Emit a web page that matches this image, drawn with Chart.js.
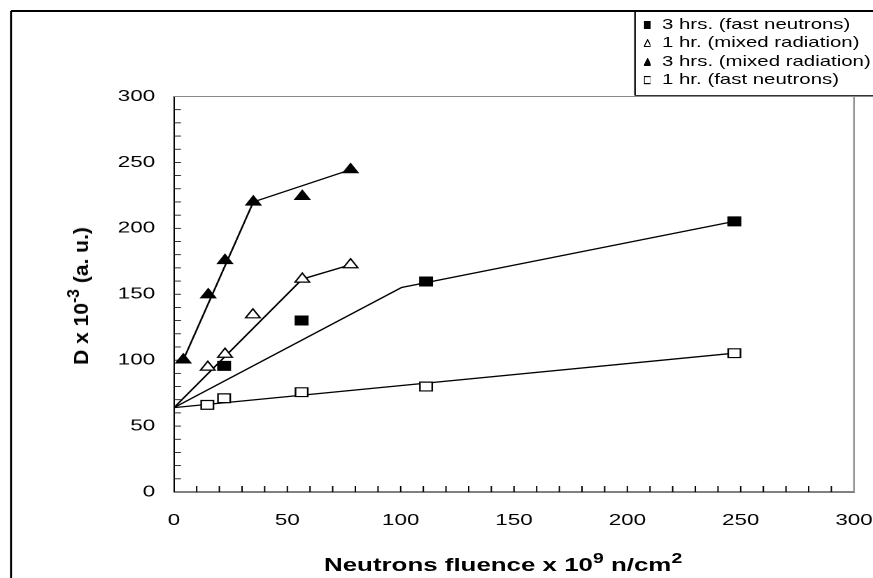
<!DOCTYPE html>
<html><head><meta charset="utf-8">
<script src="https://cdn.jsdelivr.net/npm/chart.js@4.4.0/dist/chart.umd.min.js"></script>
<style>
html,body{margin:0;padding:0;background:#fff;overflow:hidden;width:873px;height:578px;}
#wrap{position:absolute;left:0;top:0;width:624px;height:578px;transform:scaleX(1.399);transform-origin:0 0;}
#c{position:absolute;left:0;top:0;}
.lgt{position:absolute;height:18.5px;line-height:18.5px;font:14.6px "Liberation Sans",Arial,sans-serif;white-space:nowrap;color:#000;}
.lgm{position:absolute;}
#xt{position:absolute;left:231.6px;top:553.5px;line-height:22px;font:bold 18.5px "Liberation Sans",Arial,sans-serif;white-space:nowrap;color:#000;}
#yt{position:absolute;left:81px;top:296px;transform:translate(-50%,-50%) rotate(-90deg);line-height:21px;font:bold 21px "Liberation Sans",Arial,sans-serif;white-space:nowrap;color:#000;}
sup{font-size:0.75em;line-height:0;vertical-align:0.55em;}
</style></head>
<body>
<div id="wrap">
<canvas id="c" width="624" height="578"></canvas>
<div id="legend"></div>
<div id="xt">Neutrons fluence x 10<sup>9</sup> n/cm<sup>2</sup></div>
</div>
<div id="yt">D x 10<sup>-3</sup> (a. u.)</div>
<script>
// ---- data ----
const xMin = 0, xMax = 300, yMin = 0, yMax = 300;
const tickStep = 10, labelStep = 50;
const seriesNames = ["3 hrs. (fast neutrons)", "1 hr. (mixed radiation)", "3 hrs. (mixed radiation)", "1 hr. (fast neutrons)"];

const fastN3X = [22.1, 56.3, 111.2, 247.2];
const fastN3Y = [95.7, 130.1, 159.7, 205.3];
const mixed1X = [14.9, 22.5, 34.8, 56.6, 77.9];
const mixed1Y = [94.7, 104.5, 134.4, 161.5, 172.4];
const mixed3X = [4.1, 15.1, 22.5, 35.0, 56.6, 77.9];
const mixed3Y = [100.2, 149.6, 175.6, 220.0, 224.2, 244.5];
const fastN1X = [14.7, 22.1, 56.3, 111.2, 247.2];
const fastN1Y = [66.1, 71.1, 75.7, 80.0, 105.3];

// trend lines as drawn in the figure
const fitFastN3X = [0, 100.4, 247.2];
const fitFastN3Y = [64, 155.1, 205.3];
const fitMixed1X = [0, 56.6, 77.9];
const fitMixed1Y = [64, 161.5, 172.4];
const fitMixed3X = [4.1, 35.0, 77.9];
const fitMixed3Y = [100.2, 220.0, 244.5];
const fitFastN1X = [0, 247.2];
const fitFastN1Y = [64, 105.3];

// ---- helpers ----
const S = 1.399; // horizontal stretch of the reference rendering
const pts = (xs, ys) => xs.map((x, i) => ({x: x, y: ys[i]}));
const marker = (name, xs, ys, style, filled, r) => ({
  label: name, data: pts(xs, ys), showLine: false, order: 1,
  pointStyle: style, pointRadius: r, pointHoverRadius: r,
  pointBackgroundColor: filled ? '#000' : '#fff', pointBorderColor: '#000', pointBorderWidth: 1.2
});
const fit = (xs, ys) => ({
  label: '', data: pts(xs, ys), showLine: true, order: 2, pointRadius: 0,
  borderColor: '#000', borderWidth: 1.3, fill: false, tension: 0
});

const fontTick = {family: '"Liberation Sans", Arial, sans-serif', size: 16};

const framePlugin = {
  id: 'frame',
  afterDraw(chart) {
    const ctx = chart.ctx, xs = chart.scales.x, ys = chart.scales.y;
    const L = xs.left, R = xs.right, T = ys.top, B = ys.bottom;
    const W = chart.width;
    ctx.save();
    // plot area top / right border (gray)
    ctx.strokeStyle = '#8a8a8a';
    ctx.lineWidth = 1;
    ctx.beginPath(); ctx.moveTo(L, T); ctx.lineTo(W, T); ctx.stroke();
    ctx.lineWidth = 1.1;
    ctx.beginPath(); ctx.moveTo(R, T); ctx.lineTo(R, B); ctx.stroke();
    // inside tick marks
    ctx.strokeStyle = '#000';
    ctx.lineWidth = 0.8;
    ys.ticks.forEach(t => {
      if (t.value <= yMin || t.value >= yMax) return;
      const y = ys.getPixelForValue(t.value);
      ctx.beginPath(); ctx.moveTo(L, y); ctx.lineTo(L + 5, y); ctx.stroke();
    });
    ctx.lineWidth = 1;
    xs.ticks.forEach(t => {
      if (t.value <= xMin || t.value >= xMax) return;
      const x = xs.getPixelForValue(t.value);
      ctx.beginPath(); ctx.moveTo(x, B); ctx.lineTo(x, B - 6); ctx.stroke();
    });
    // outer figure frame
    ctx.lineWidth = 2;
    ctx.beginPath(); ctx.moveTo(11 / S, 11); ctx.lineTo(W, 11); ctx.stroke();
    ctx.lineWidth = 1.45;
    ctx.beginPath(); ctx.moveTo(11 / S, 11); ctx.lineTo(11 / S, chart.height); ctx.stroke();
    // legend box
    ctx.lineWidth = 1.1;
    ctx.beginPath(); ctx.moveTo(635 / S, 11); ctx.lineTo(635 / S, 95.5); ctx.stroke();
    ctx.lineWidth = 1;
    ctx.strokeStyle = '#333';
    ctx.beginPath(); ctx.moveTo(635 / S, 95.5); ctx.lineTo(W, 95.5); ctx.stroke();
    ctx.restore();
  }
};

new Chart(document.getElementById('c'), {
  type: 'scatter',
  data: {
    datasets: [
      marker(seriesNames[0], fastN3X, fastN3Y, 'rect', true, 6.2),
      marker(seriesNames[1], mixed1X, mixed1Y, 'triangle', false, 6),
      marker(seriesNames[2], mixed3X, mixed3Y, 'triangle', true, 6),
      marker(seriesNames[3], fastN1X, fastN1Y, 'rect', false, 6.2),
      fit(fitFastN3X, fitFastN3Y),
      fit(fitMixed1X, fitMixed1Y),
      fit(fitMixed3X, fitMixed3Y),
      fit(fitFastN1X, fitFastN1Y)
    ]
  },
  options: {
    responsive: false,
    animation: false,
    devicePixelRatio: 2,
    layout: {padding: {left: 0, right: 624 - 854 / S, top: 96.5, bottom: 0}},
    plugins: {legend: {display: false}, tooltip: {enabled: false}},
    scales: {
      x: {
        type: 'linear', min: xMin, max: xMax,
        grid: {display: true, drawOnChartArea: false, drawTicks: false},
        border: {display: true, color: '#000', width: 1},
        ticks: {stepSize: tickStep, autoSkip: false, maxRotation: 0, color: '#000', font: fontTick, padding: 19,
          callback: v => (v % labelStep === 0 ? String(v) : '')},
        afterFit: s => { s.height = 578 - 492; s.paddingLeft = 0; s.paddingRight = 0; }
      },
      y: {
        type: 'linear', min: yMin, max: yMax,
        grid: {display: true, drawOnChartArea: false, drawTicks: false},
        border: {display: true, color: '#000', width: 1},
        ticks: {stepSize: tickStep, autoSkip: false, color: '#000', font: fontTick, padding: 13.5,
          callback: v => (v % labelStep === 0 ? String(v) : '')},
        afterFit: s => { s.width = 174 / S; s.paddingTop = 0; s.paddingBottom = 0; }
      }
    }
  },
  plugins: [framePlugin]
});

// ---- legend (HTML text) ----
const legendRowsY = [24.7, 43.3, 61.7, 80.5];
const legendShapes = ['sq-f', 'tri-o', 'tri-f', 'sq-o'];
const lg = document.getElementById('legend');
seriesNames.forEach((name, i) => {
  const cy = legendRowsY[i];
  const shape = legendShapes[i];
  const filled = shape.endsWith('-f');
  let inner;
  if (shape.startsWith('sq')) {
    inner = `<rect x="0.7" y="0.7" width="8.6" height="8.6" fill="${filled ? '#000' : '#fff'}" stroke="#000" stroke-width="1.4"/>`;
  } else {
    inner = `<polygon points="5,0.8 9.3,9.3 0.7,9.3" fill="${filled ? '#000' : '#fff'}" stroke="#000" stroke-width="1.4"/>`;
  }
  const mw = 8.2 / S, mh = 8.2;
  const svg = `<svg class="lgm" style="left:${647 / S - mw / 2}px;top:${cy - mh / 2}px" width="${mw}" height="${mh}" viewBox="0 0 10 10" preserveAspectRatio="none">${inner}</svg>`;
  const txt = document.createElement('div');
  txt.className = 'lgt';
  txt.style.left = (662 / S) + 'px';
  txt.style.top = (cy - 9.1) + 'px';
  txt.textContent = name;
  lg.insertAdjacentHTML('beforeend', svg);
  lg.appendChild(txt);
});
</script>
</body></html>
